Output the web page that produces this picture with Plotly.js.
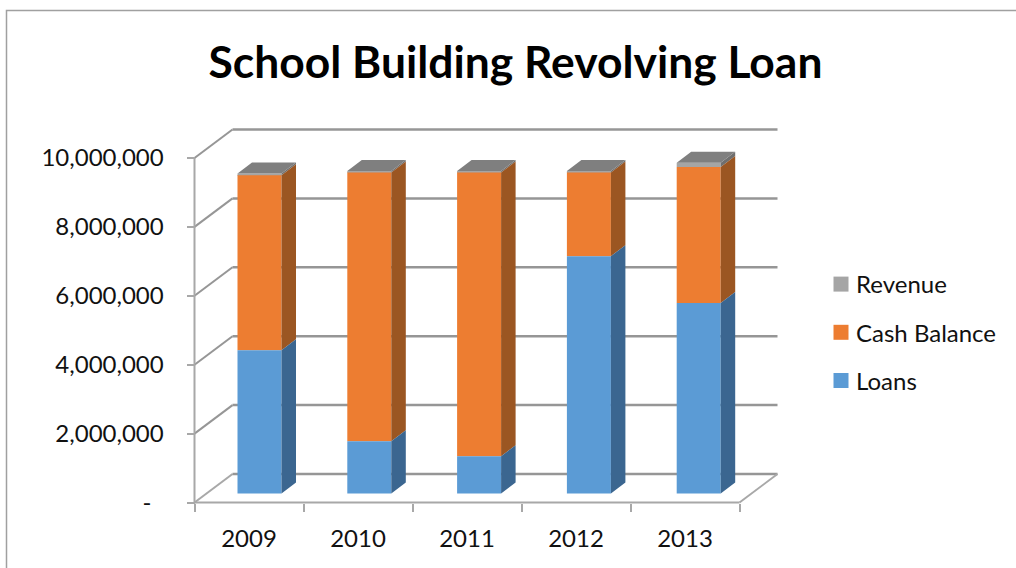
<!DOCTYPE html>
<html>
<head>
<meta charset="utf-8">
<script src="https://cdn.plot.ly/plotly-3.0.1.min.js"></script>
<style>html,body{margin:0;padding:0;background:#fff}#chart{width:1016px;height:568px}</style>
</head>
<body>
<div id="chart"></div>
<script>
const years = [2009, 2010, 2011, 2012, 2013];
const loans = [4160000, 1520000, 1080000, 6890000, 5530000];
const cashBalance = [5080000, 7800000, 8240000, 2430000, 3950000];
const revenue = [50000, 40000, 40000, 40000, 120000];
const yTicks = [0, 2000000, 4000000, 6000000, 8000000, 10000000];
const yTickLabels = ['-\u00a0\u00a0', '2,000,000', '4,000,000', '6,000,000', '8,000,000', '10,000,000'];

const W = 1016, H = 568;
// plot box in page pixels, and the scale of the front plane
const box = {l: 185, r: 785, t: 122, b: 512};
const frontLeft = 194.5, pxPerYear = 109, zeroY = 502.5, pxPerUnit = 34.45e-6;
const xFromPx = p => 2008.5 + (p - frontLeft) / pxPerYear;
const yFromPx = p => (zeroY - p) / pxPerUnit;
const dxPx = d => d / pxPerYear, dyPx = d => d / pxPerUnit;

// projected depth
const wallDX = dxPx(38), wallDY = dyPx(28.5);
const barDX = dxPx(14.5), barDY = dyPx(11);
const barLift = dyPx(9), barShift = dxPx(10.5), barW = dxPx(44), barStep = 109.8 / pxPerYear;

const xL = 2008.5, xR = 2013.5;
const gridColor = '#969696', floorColor = '#a8a8a8';
const seg = (x0, y0, x1, y1, color, width) => ({type: 'line', layer: 'below', xref: 'x', yref: 'y',
  x0, y0, x1, y1, line: {color, width}});

const shapes = [];
yTicks.forEach(v => {
  shapes.push(seg(xL, v, xL + wallDX, v + wallDY, v === 0 ? floorColor : gridColor, 2));
  shapes.push(seg(xL + wallDX, v + wallDY, xR + wallDX, v + wallDY, gridColor, 2.5));
});
shapes.push(seg(xL, 0, xL, yTicks[yTicks.length - 1], floorColor, 2));
shapes.push(seg(xL, 0, xR, 0, floorColor, 2));
shapes.push(seg(xR, 0, xR + wallDX, wallDY, floorColor, 2));
// outer chart frame: only its top and left edges fall inside the page
const pw = box.r - box.l, ph = box.b - box.t;
shapes.push({type: 'rect', layer: 'below', xref: 'paper', yref: 'paper',
  x0: (6.5 - box.l) / pw, x1: (1022 - box.l) / pw,
  y0: (box.b - 575) / ph, y1: (box.b - 10.5) / ph,
  line: {color: '#a0a0a0', width: 1.5}, fillcolor: 'rgba(0,0,0,0)'});

const barX = years.map(y => years[0] + barShift + (y - years[0]) * barStep);
const seriesDefs = [
  {name: 'Loans', vals: loans, color: '#5b9bd5', side: '#3b6690'},
  {name: 'Cash Balance', vals: cashBalance, color: '#ed7d31', side: '#9b5622'},
  {name: 'Revenue', vals: revenue, color: '#a5a5a5', side: '#6f6f6f'}
];
const groups = [];
const running = years.map(() => barLift);
seriesDefs.forEach(s => {
  const base = running.slice();
  const bar = {type: 'bar', name: s.name, x: barX, y: s.vals, base, width: barW,
    marker: {color: s.color, line: {width: 0}}, legendgroup: s.name,
    customdata: years, hovertemplate: '%{customdata}: %{y:,}<extra>' + s.name + '</extra>'};
  const sx = [], sy = [];
  barX.forEach((x, i) => {
    const r = x + barW / 2, b = base[i], t = b + s.vals[i];
    sx.push(r, r + barDX, r + barDX, r, null);
    sy.push(b, b + barDY, t + barDY, t, null);
    running[i] = t;
  });
  const side = {type: 'scatter', mode: 'none', fill: 'toself', fillcolor: s.side, x: sx, y: sy,
    showlegend: false, hoverinfo: 'skip', legendgroup: s.name};
  groups.unshift(bar, side);
});
const traces = groups;
const tx = [], ty = [];
barX.forEach((x, i) => {
  const l = x - barW / 2, r = x + barW / 2, t = running[i];
  tx.push(l, r, r + barDX, l + barDX, null);
  ty.push(t, t, t + barDY, t + barDY, null);
});
traces.push({type: 'scatter', mode: 'none', fill: 'toself', fillcolor: '#7f7f7f', x: tx, y: ty,
  showlegend: false, hoverinfo: 'skip', legendgroup: 'Revenue'});

const font = 'Lato, "Open Sans", sans-serif';
const layout = {
  width: W, height: H, autosize: false,
  margin: {l: box.l, r: W - box.r, t: box.t, b: H - box.b, pad: 0},
  paper_bgcolor: '#ffffff', plot_bgcolor: 'rgba(0,0,0,0)',
  barmode: 'overlay',
  font: {family: font, size: 24, color: '#111111'},
  title: {text: 'School Building Revolving Loan', font: {family: font, size: 44.4, weight: 700, color: '#000000'},
    x: 515.5 / W, xanchor: 'center', xref: 'container', y: 1 - 62 / H, yanchor: 'middle', yref: 'container'},
  xaxis: {type: 'linear', range: [xFromPx(box.l), xFromPx(box.r)], anchor: 'free',
    position: (box.b - zeroY) / ph, tickmode: 'array', tickvals: years, ticktext: years.map(String),
    ticks: 'outside', ticklen: 8, tickcolor: 'rgba(0,0,0,0)', tickwidth: 1, ticklabelstandoff: 7,
    minor: {tickmode: 'array', tickvals: [2008.5, 2009.5, 2010.5, 2011.5, 2012.5, 2013.5], ticks: 'outside', ticklen: 8, tickcolor: floorColor, tickwidth: 2, showgrid: false},
    showgrid: false, zeroline: false, showline: false, fixedrange: true},
  yaxis: {type: 'linear', range: [yFromPx(box.b), yFromPx(box.t)], anchor: 'free',
    position: (frontLeft - box.l) / pw, tickmode: 'array', tickvals: yTicks, ticktext: yTickLabels,
    ticks: 'outside', ticklen: 8, tickcolor: floorColor, tickwidth: 2, ticklabelstandoff: 18,
    showgrid: false, zeroline: false, showline: false, fixedrange: true},
  showlegend: true,
  legend: {x: (816 - box.l) / pw, xanchor: 'left', y: (box.b - 262) / ph, yanchor: 'top',
    traceorder: 'grouped', tracegroupgap: 14, bgcolor: 'rgba(0,0,0,0)', font: {family: font, size: 24, color: '#111111'}},
  shapes
};
Plotly.newPlot('chart', traces, layout, {displayModeBar: false}).then(() => {
  // legend swatches: 15 px squares sitting closer to their labels
  document.querySelectorAll('#chart .legend .legendpoints path').forEach(p => {
    p.setAttribute('d', 'M7.5,7.5H-7.5V-7.5H7.5Z');
    p.setAttribute('transform', 'translate(25,0)');
  });
});
</script>
</body>
</html>
